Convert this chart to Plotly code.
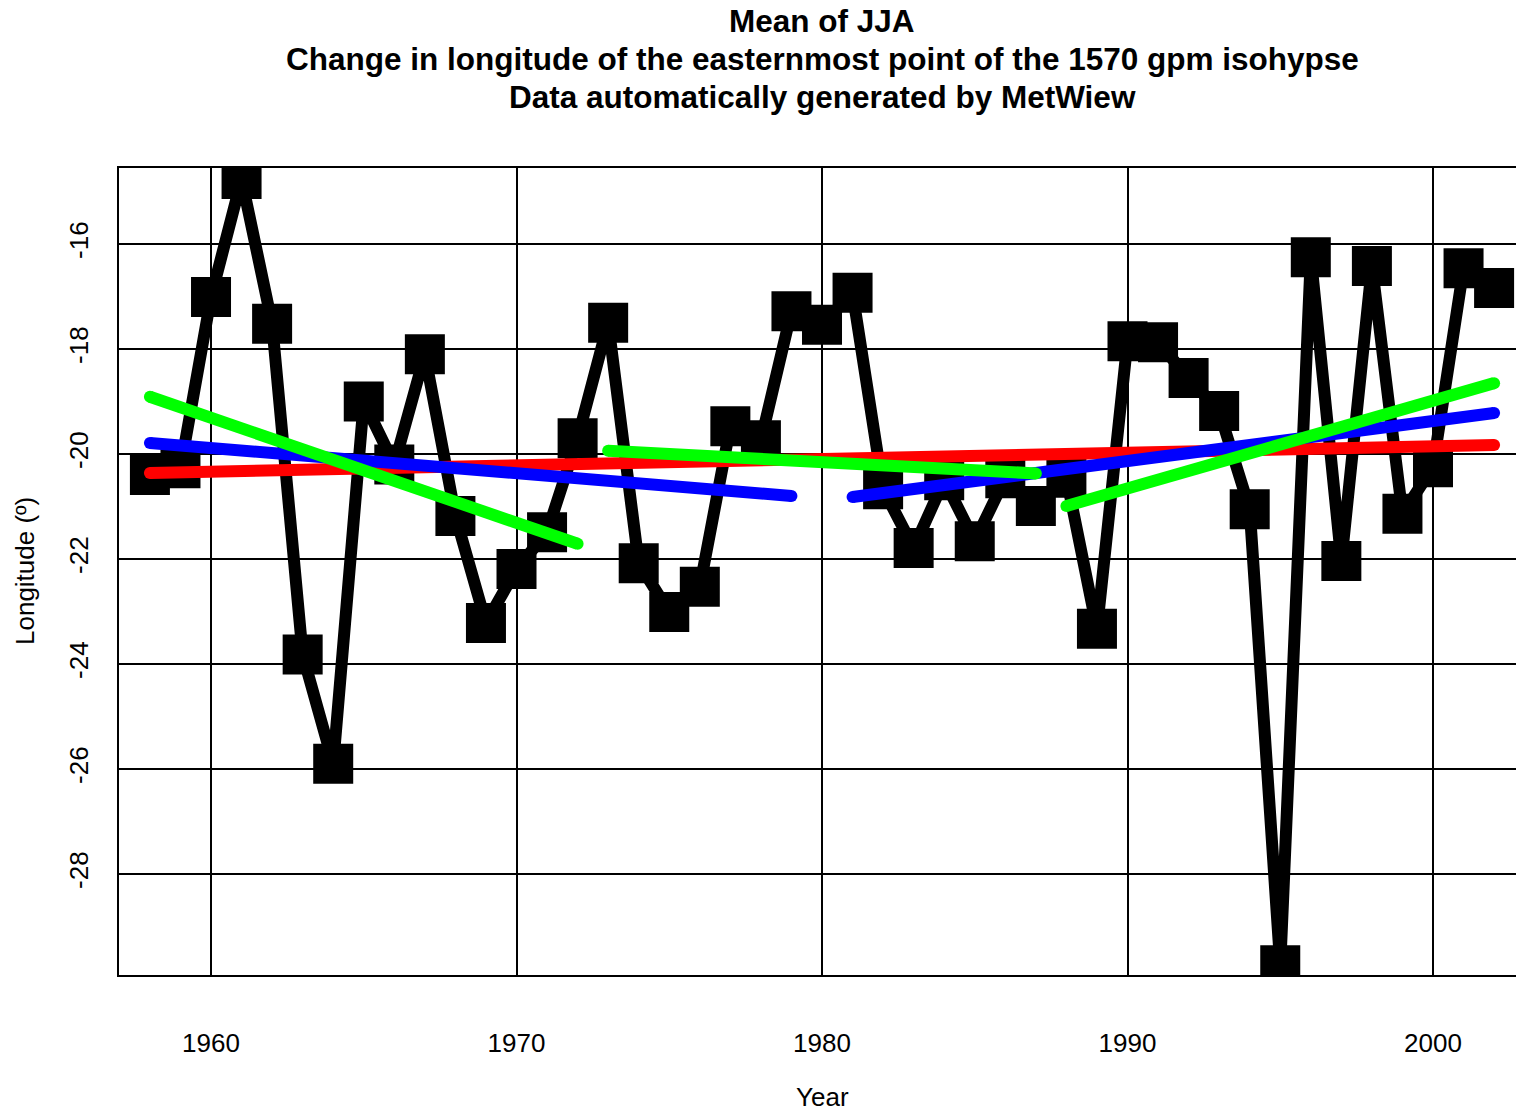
import plotly.graph_objects as go

# ---------------- data ----------------
years = list(range(1958, 2003))
longitude = [
    -20.40, -20.27, -17.01, -14.76, -17.52, -23.82, -25.90, -19.00, -20.20, -18.10,
    -21.18, -23.22, -22.19, -21.49, -19.70, -17.50, -22.08, -23.01, -22.53, -19.47,
    -19.74, -17.28, -17.54, -16.93, -20.67, -21.79, -20.50, -21.66, -20.46, -20.99,
    -20.45, -23.33, -17.85, -17.87, -18.55, -19.18, -21.05, -29.74, -16.25, -22.04,
    -16.42, -21.14, -20.25, -16.46, -16.84,
]

x_ticks = [1960, 1970, 1980, 1990, 2000]
y_ticks = [-28, -26, -24, -22, -20, -18, -16]

# trend lines (start/end year, start/end value)
red_years = [[1958, 2002]]
red_vals = [[-20.36, -19.83]]
blue_years = [[1958, 1979], [1981, 2002]]
blue_vals = [[-19.79, -20.80], [-20.82, -19.22]]
green_years = [[1958, 1972], [1973, 1987], [1988, 2002]]
green_vals = [[-18.91, -21.71], [-19.94, -20.37], [-20.99, -18.65]]

title_lines = [
    "Mean of JJA",
    "Change in longitude of the easternmost point of the 1570 gpm isohypse",
    "Data automatically generated by MetWiew",
]
x_title = "Year"
y_title = "Longitude (º)"

# ---------------- layout geometry ----------------
W, H = 1516, 1111
L, T, B_PX = 119, 168, 975
R_PX = 1516
FONT = "Liberation Sans, Arial, Helvetica, sans-serif"
LW = 12


def py(p):
    return (B_PX - p) / (B_PX - T)


def px(p):
    return (p - L) / (R_PX - L)


fig = go.Figure()

fig.add_trace(go.Scatter(
    x=years, y=longitude, mode="lines+markers",
    line=dict(color="black", width=LW),
    marker=dict(symbol="square", size=40, color="black", line=dict(width=0)),
    showlegend=False, hoverinfo="skip",
))

for col, yrs_l, vals_l in [("#FF0000", red_years, red_vals),
                           ("#0000FF", blue_years, blue_vals),
                           ("#00FF00", green_years, green_vals)]:
    for yrs, vals in zip(yrs_l, vals_l):
        fig.add_trace(go.Scatter(
            x=yrs, y=vals, mode="lines+markers",
            line=dict(color=col, width=LW),
            marker=dict(symbol="circle", size=LW, color=col, line=dict(width=0)),
            showlegend=False, hoverinfo="skip",
        ))

annotations = []
for text, ypix in zip(title_lines, [21, 59, 97]):
    annotations.append(dict(
        text="<b>%s</b>" % text, x=px(822), y=py(ypix), xref="paper", yref="paper",
        xanchor="center", yanchor="middle", showarrow=False,
        font=dict(family=FONT, size=31.5, color="black"),
    ))
annotations.append(dict(
    text=x_title, x=px(822), y=py(1097), xref="paper", yref="paper",
    xanchor="center", yanchor="middle", showarrow=False,
    font=dict(family=FONT, size=26, color="black"),
))
annotations.append(dict(
    text=y_title, x=px(25), y=py(571), xref="paper", yref="paper",
    xanchor="center", yanchor="middle", showarrow=False, textangle=-90,
    font=dict(family=FONT, size=26, color="black"),
))

fig.update_layout(
    width=W, height=H,
    margin=dict(l=L, r=W - R_PX, t=T, b=H - B_PX, pad=0),
    paper_bgcolor="white", plot_bgcolor="white",
    font=dict(family=FONT, size=26, color="black"),
    annotations=annotations,
    xaxis=dict(
        range=[1956.988, 2002.717], tickvals=x_ticks, ticktext=[str(v) for v in x_ticks],
        showgrid=True, gridcolor="black", gridwidth=2,
        showline=True, linecolor="black", linewidth=2, mirror=True,
        ticks="", zeroline=False, ticklabelstandoff=44,
        tickfont=dict(family=FONT, size=26, color="black"),
    ),
    yaxis=dict(
        range=[-29.924, -14.552], tickvals=y_ticks, ticktext=[str(v) for v in y_ticks],
        showgrid=True, gridcolor="black", gridwidth=2,
        showline=True, linecolor="black", linewidth=2, mirror=False,
        ticks="", zeroline=False, tickangle=-90, ticklabelstandoff=19,
        tickfont=dict(family=FONT, size=26, color="black"),
    ),
)

fig.write_html("out.html")
